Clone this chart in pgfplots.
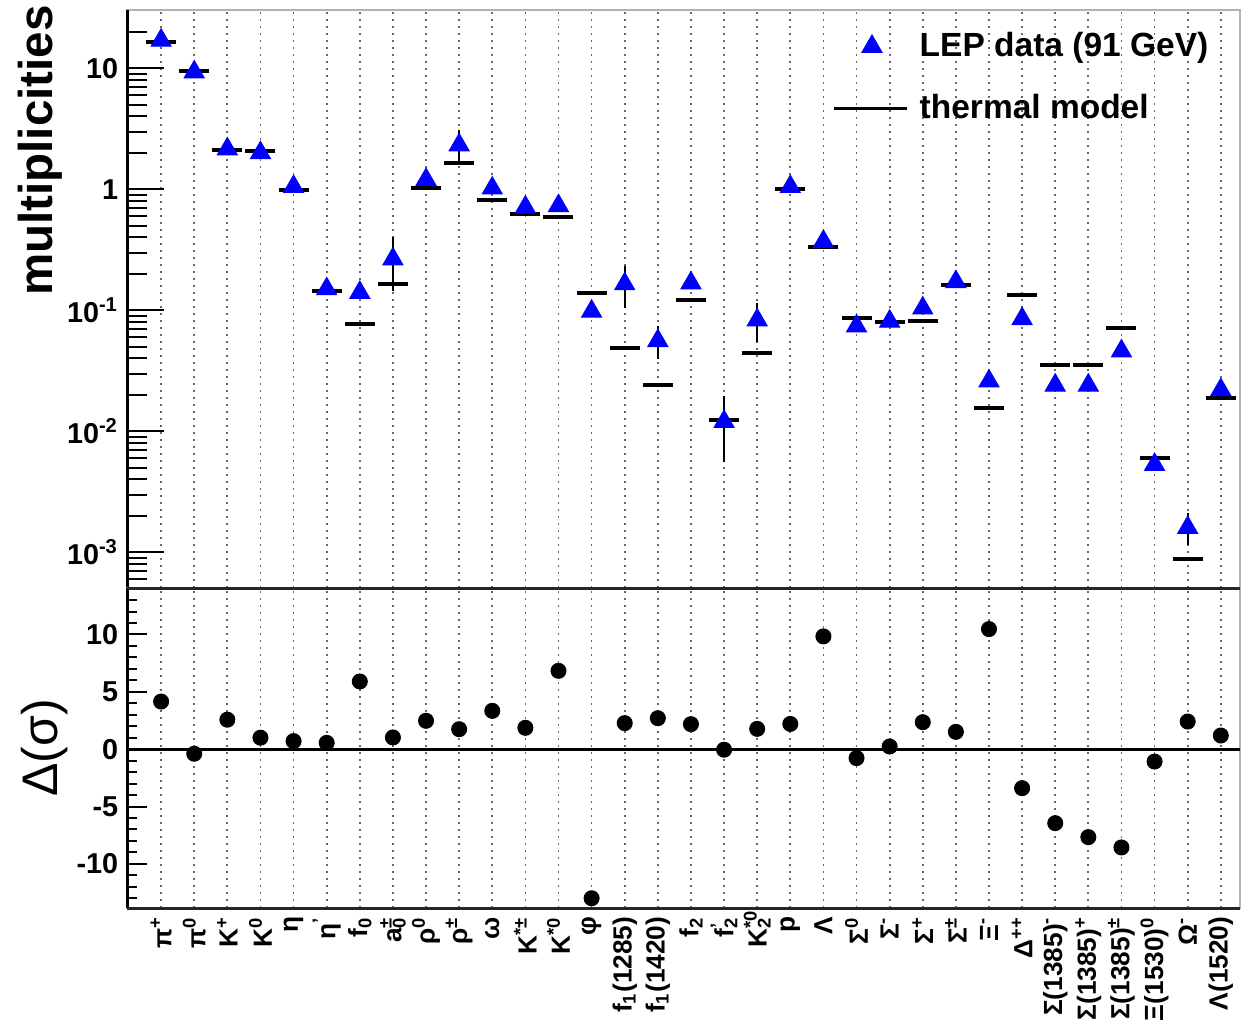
\documentclass[border=0pt]{standalone}
\usepackage{pgfplots}
\pgfplotsset{compat=1.18}
\usepackage{pgfplotstable}
\usepackage{fontspec}
\setmainfont{Liberation Sans}

\pgfplotstableread{
x data model delta
0 17.0 16.5 4.15
1 9.3 9.5 -0.4
2 2.15 2.11 2.57
3 2.0 2.08 1.0
4 1.05 0.99 0.7
5 0.150 0.143 0.55
6 0.140 0.077 5.9
7 0.265 0.166 1.02
8 1.20 1.02 2.47
9 2.32 1.64 1.74
10 1.02 0.81 3.34
11 0.71 0.63 1.86
12 0.73 0.59 6.83
13 0.098 0.139 -13.0
14 0.165 0.049 2.27
15 0.056 0.024 2.7
16 0.168 0.121 2.18
17 0.012 0.0125 -0.05
18 0.083 0.044 1.77
19 1.05 1.0 2.2
20 0.37 0.336 9.83
21 0.074 0.0857 -0.78
22 0.081 0.080 0.23
23 0.104 0.082 2.35
24 0.172 0.162 1.51
25 0.026 0.0155 10.47
26 0.085 0.135 -3.4
27 0.024 0.035 -6.45
28 0.024 0.0355 -7.67
29 0.046 0.071 -8.57
30 0.0053 0.006 -1.08
31 0.0016 0.00088 2.41
32 0.022 0.019 1.19
}\mytable

\tikzset{
  gridstyle/.style={black!60, line width=0.7pt, dash pattern=on 0.8pt off 2pt},
}

\begin{document}
\begin{tikzpicture}
\begin{axis}[name=top, scale only axis, width=445.2pt, height=231.2pt,
  ymode=log, xmin=-1.03, xmax=32.58, ymin=5.07e-4, ymax=30.3,
  xtick={0,...,32}, xticklabels={}, xmajorgrids,
  x grid style={gridstyle},
  xtick style={draw=none},
  ytick={0.001,0.01,0.1,1,10},
  yticklabels={10\textsuperscript{-3},10\textsuperscript{-2},10\textsuperscript{-1},1,10},
  minor ytick={0.0006,0.0007,0.0008,0.0009,0.002,0.003,0.004,0.005,0.006,0.007,0.008,0.009,0.02,0.03,0.04,0.05,0.06,0.07,0.08,0.09,0.2,0.3,0.4,0.5,0.6,0.7,0.8,0.9,2,3,4,5,6,7,8,9,20},
  ytick pos=left,
  major tick length=14.8pt, minor tick length=8pt,
  y tick style={black, line width=0.8pt},
  axis line style={gray!60, line width=0.6pt},
  yticklabel style={font=\fontsize{11.5}{13}\selectfont\bfseries},
  ylabel={multiplicities},
  ylabel style={font=\fontsize{19}{23}\selectfont\bfseries, inner sep=0pt, at={(axis description cs:-0.0782,1.0087)}, anchor=east},
  legend cell align=left,
  legend style={draw=none, fill=none, inner sep=0pt, at={(axis description cs:0.6334,0.9706)}, anchor=north west,
    font=\fontsize{13.4}{15}\selectfont\bfseries, row sep=9.6pt,
    /tikz/every odd column/.append style={column sep=2.5pt}},
]
\addlegendimage{legend image code/.code={\draw[blue, mark=triangle*, mark size=4.6pt] plot coordinates {(15.2pt,0pt)};}}
\addlegendentry{LEP data (91 GeV)}
\addlegendimage{legend image code/.code={\draw[black, line width=1.2pt] (0pt,0pt) -- (29.2pt,0pt);}}
\addlegendentry{thermal model}
\addplot[only marks, mark=-, mark size=6pt, mark options={line width=1.6pt, black}, forget plot] table[x=x,y=model]{\mytable};
\addplot[only marks, mark=triangle*, mark size=4.6pt, blue, mark options={draw=blue, fill=blue}, forget plot] table[x=x,y=data]{\mytable};
\addplot[draw=none, mark=none, forget plot,
  error bars/.cd, y dir=both, y explicit,
  error bar style={black, line width=0.8pt},
  error mark options={black, mark size=1.6pt, line width=0.8pt}]
  coordinates {(7,0.265) +- (0,0.11) (9,2.32) +- (0,0.55) (14,0.165) +- (0,0.052) (15,0.056) +- (0,0.013) (17,0.012) +- (0,0.006) (18,0.083) +- (0,0.024) (31,0.0016) +- (0,0.00035)};
\end{axis}
\draw[black, line width=1.2pt] (top.south west) -- (top.north west);

\begin{axis}[name=bot, at={(top.south west)}, anchor=north west,
  scale only axis, width=445.2pt, height=128pt,
  xmin=-1.03, xmax=32.58, ymin=-13.85, ymax=14.05,
  xtick={0,...,32},
  xticklabels={π\textsuperscript{+},π\textsuperscript{0},K\textsuperscript{+},K\textsuperscript{0},η,η\textsuperscript{'},f\textsubscript{0},a\rlap{\textsuperscript{±}}\textsubscript{0},ρ\textsuperscript{0},ρ\textsuperscript{±},ω,K\textsuperscript{*±},K\textsuperscript{*0},φ,f\textsubscript{1}(1285),f\textsubscript{1}(1420),f\textsubscript{2},f\rlap{\textsuperscript{'}}\textsubscript{2},K\rlap{\textsuperscript{*0}}\textsubscript{2},p,Λ,Σ\textsuperscript{0},Σ\textsuperscript{-},Σ\textsuperscript{+},Σ\textsuperscript{±},Ξ\textsuperscript{-},Δ\textsuperscript{++},Σ(1385)\textsuperscript{-},Σ(1385)\textsuperscript{+},Σ(1385)\textsuperscript{±},Ξ(1530)\textsuperscript{0},Ω\textsuperscript{-},Λ(1520)},
  xticklabel style={rotate=90, anchor=east, font=\fontsize{10.5}{12}\selectfont\bfseries},
  xmajorgrids, x grid style={gridstyle},
  xtick style={draw=none},
  ytick={-10,-5,0,5,10}, yticklabels={-10,-5,0,5,10},
  minor ytick={-13,-12,...,13},
  ytick pos=left,
  major tick length=8pt, minor tick length=4pt,
  y tick style={black, line width=0.8pt},
  axis line style={gray!60, line width=0.6pt},
  yticklabel style={font=\fontsize{11.5}{13}\selectfont\bfseries},
  ylabel={Δ(σ)},
  ylabel style={font=\fontsize{20}{24}\selectfont, at={(axis description cs:-0.0737,0.5)}, anchor=center},
]
\addplot[black, line width=1.2pt, forget plot] coordinates {(-1.03,0) (32.58,0)};
\addplot[only marks, mark=*, mark size=3pt, black] table[x=x,y=delta]{\mytable};
\end{axis}
\draw[black, line width=1.2pt] (bot.south west) -- (bot.north west);
\draw[black!85, line width=1.2pt] (bot.north west) -- (bot.north east);
\draw[black!85, line width=1.2pt] (bot.south west) -- (bot.south east);

\pgfresetboundingbox
\path ([xshift=-50.8pt, yshift=4pt]top.north west) rectangle ([xshift=0.8pt, yshift=-46.4pt]bot.south east);
\end{tikzpicture}
\end{document}
